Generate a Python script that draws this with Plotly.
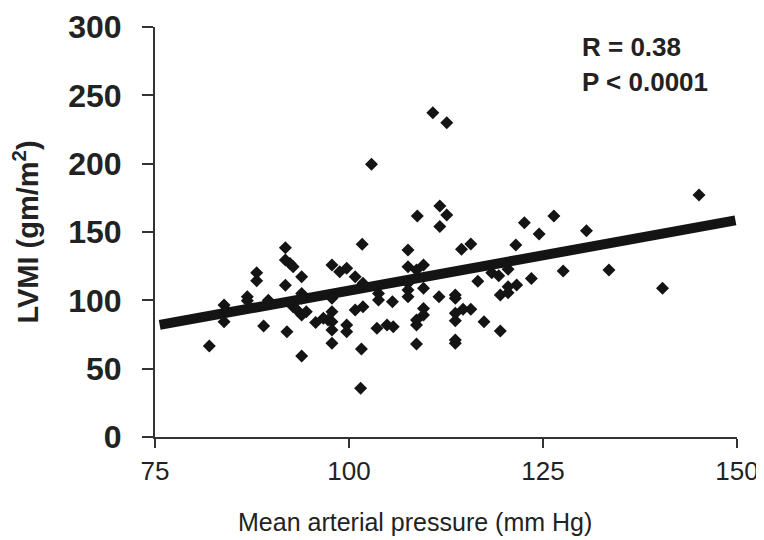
import plotly.graph_objects as go

# Mean arterial pressure (mm Hg) and LVMI (gm/m^2)
map_x = [82.0, 83.9, 83.9, 84.2, 86.9, 86.9, 88.1, 88.1, 89.0, 89.6,
         91.8, 91.8, 92.4, 92.8, 91.8, 92.0, 93.9, 93.9, 93.9, 92.8,
         93.3, 93.9, 94.5, 93.9, 95.7, 96.7, 97.3, 97.8, 98.8, 99.7,
         97.8, 97.8, 97.8, 97.8, 97.8, 99.7, 99.7, 100.8, 100.8, 101.8,
         101.6, 101.5, 101.8, 103.8, 103.8, 103.6, 104.9, 105.7, 105.6, 107.6,
         107.6, 108.7, 107.6, 107.6, 107.6, 109.6, 109.6, 109.6, 109.6, 108.7,
         108.7, 108.7, 111.6, 110.8, 112.6, 102.9, 111.7, 112.6, 111.7, 108.8,
         101.7, 145.1, 122.6, 126.4, 124.5, 130.6, 114.5, 115.7, 121.5, 118.4,
         119.3, 120.5, 116.6, 123.5, 127.6, 133.5, 140.4, 113.7, 113.7, 113.7,
         113.7, 114.7, 115.7, 113.7, 113.7, 117.4, 119.5, 119.5, 120.5, 121.6,
         120.5]
lvmi_y = [66.6, 96.6, 84.4, 93.0, 102.7, 99.7, 120.2, 114.4, 81.2, 100.0,
          138.5, 129.5, 127.0, 124.6, 111.0, 77.0, 117.3, 105.0, 101.5, 95.3,
          93.0, 89.3, 91.7, 59.3, 83.7, 86.8, 85.6, 125.9, 121.0, 123.4,
          101.5, 91.7, 84.4, 78.3, 68.6, 82.0, 77.0, 117.3, 93.0, 95.3,
          64.4, 35.6, 112.5, 105.0, 100.2, 79.5, 82.0, 80.7, 99.0, 136.8,
          124.6, 122.2, 112.5, 107.6, 102.7, 125.9, 108.9, 94.1, 89.3, 85.6,
          82.0, 68.0, 102.7, 237.3, 230.0, 199.5, 169.0, 162.4, 154.0, 161.7,
          141.0, 177.0, 156.8, 161.7, 148.5, 151.0, 137.3, 141.2, 140.5, 120.2,
          118.0, 122.7, 114.0, 116.0, 121.5, 122.2, 108.8, 103.9, 101.5, 90.5,
          85.0, 93.4, 93.4, 71.0, 68.6, 84.4, 77.6, 103.9, 105.6, 111.2,
          110.0]

# Regression line end points
fit_x = [75.6, 149.8]
fit_y = [82.0, 158.5]

x_ticks = [75, 100, 125, 150]
y_ticks = [0, 50, 100, 150, 200, 250, 300]
stats_text = ["R = 0.38", "P < 0.0001"]
x_title = "Mean arterial pressure (mm Hg)"
y_title = "LVMI (gm/m<sup>2</sup>)"

fig = go.Figure()
fig.add_trace(go.Scatter(
    x=fit_x, y=fit_y, mode="lines",
    line=dict(color="#141414", width=10),
    hoverinfo="skip", showlegend=False,
))
fig.add_trace(go.Scatter(
    x=map_x, y=lvmi_y, mode="markers",
    marker=dict(symbol="diamond", size=10, color="#141414", line=dict(width=0)),
    showlegend=False,
))

for txt, ypos in zip(stats_text, [0.951, 0.866]):
    fig.add_annotation(
        x=0.730, y=ypos, xref="paper", yref="paper", xanchor="left", yanchor="middle",
        text="<b>" + txt + "</b>", showarrow=False,
        font=dict(family="Liberation Sans, Arial, sans-serif", size=26, color="#222222"),
    )

# x-axis title (placed left of centre, as in the original)
fig.add_annotation(
    x=0.447, y=-0.207, xref="paper", yref="paper", xanchor="center", yanchor="middle",
    text=x_title, showarrow=False,
    font=dict(family="Liberation Sans, Arial, sans-serif", size=25, color="#222222"),
)

fig.update_layout(
    width=764, height=540,
    margin=dict(l=147, r=35, t=19, b=111, autoexpand=False),
    paper_bgcolor="white", plot_bgcolor="white",
    font=dict(family="Liberation Sans, Arial, sans-serif", color="#222222"),
    xaxis=dict(
        range=[75, 150], tickvals=x_ticks, ticktext=[str(v) for v in x_ticks],
        showgrid=False, zeroline=False, automargin=False,
        showline=True, linecolor="#333333", linewidth=2,
        ticks="outside", ticklen=9, tickwidth=2, tickcolor="#333333",
        tickfont=dict(size=26, color="#222222"),
        ticklabelstandoff=1,
    ),
    yaxis=dict(
        range=[0, 300], tickvals=y_ticks, ticktext=[str(v) for v in y_ticks],
        showgrid=False, zeroline=False, automargin=False,
        showline=True, linecolor="#333333", linewidth=2,
        ticks="outside", ticklen=11, tickwidth=2, tickcolor="#333333",
        tickfont=dict(size=32, color="#222222", weight="bold"),
        ticklabelstandoff=14,
        title=dict(text="<b>" + y_title + "</b>",
                   font=dict(size=29, color="#222222"), standoff=31),
    ),
)

fig.write_html("out.html")
